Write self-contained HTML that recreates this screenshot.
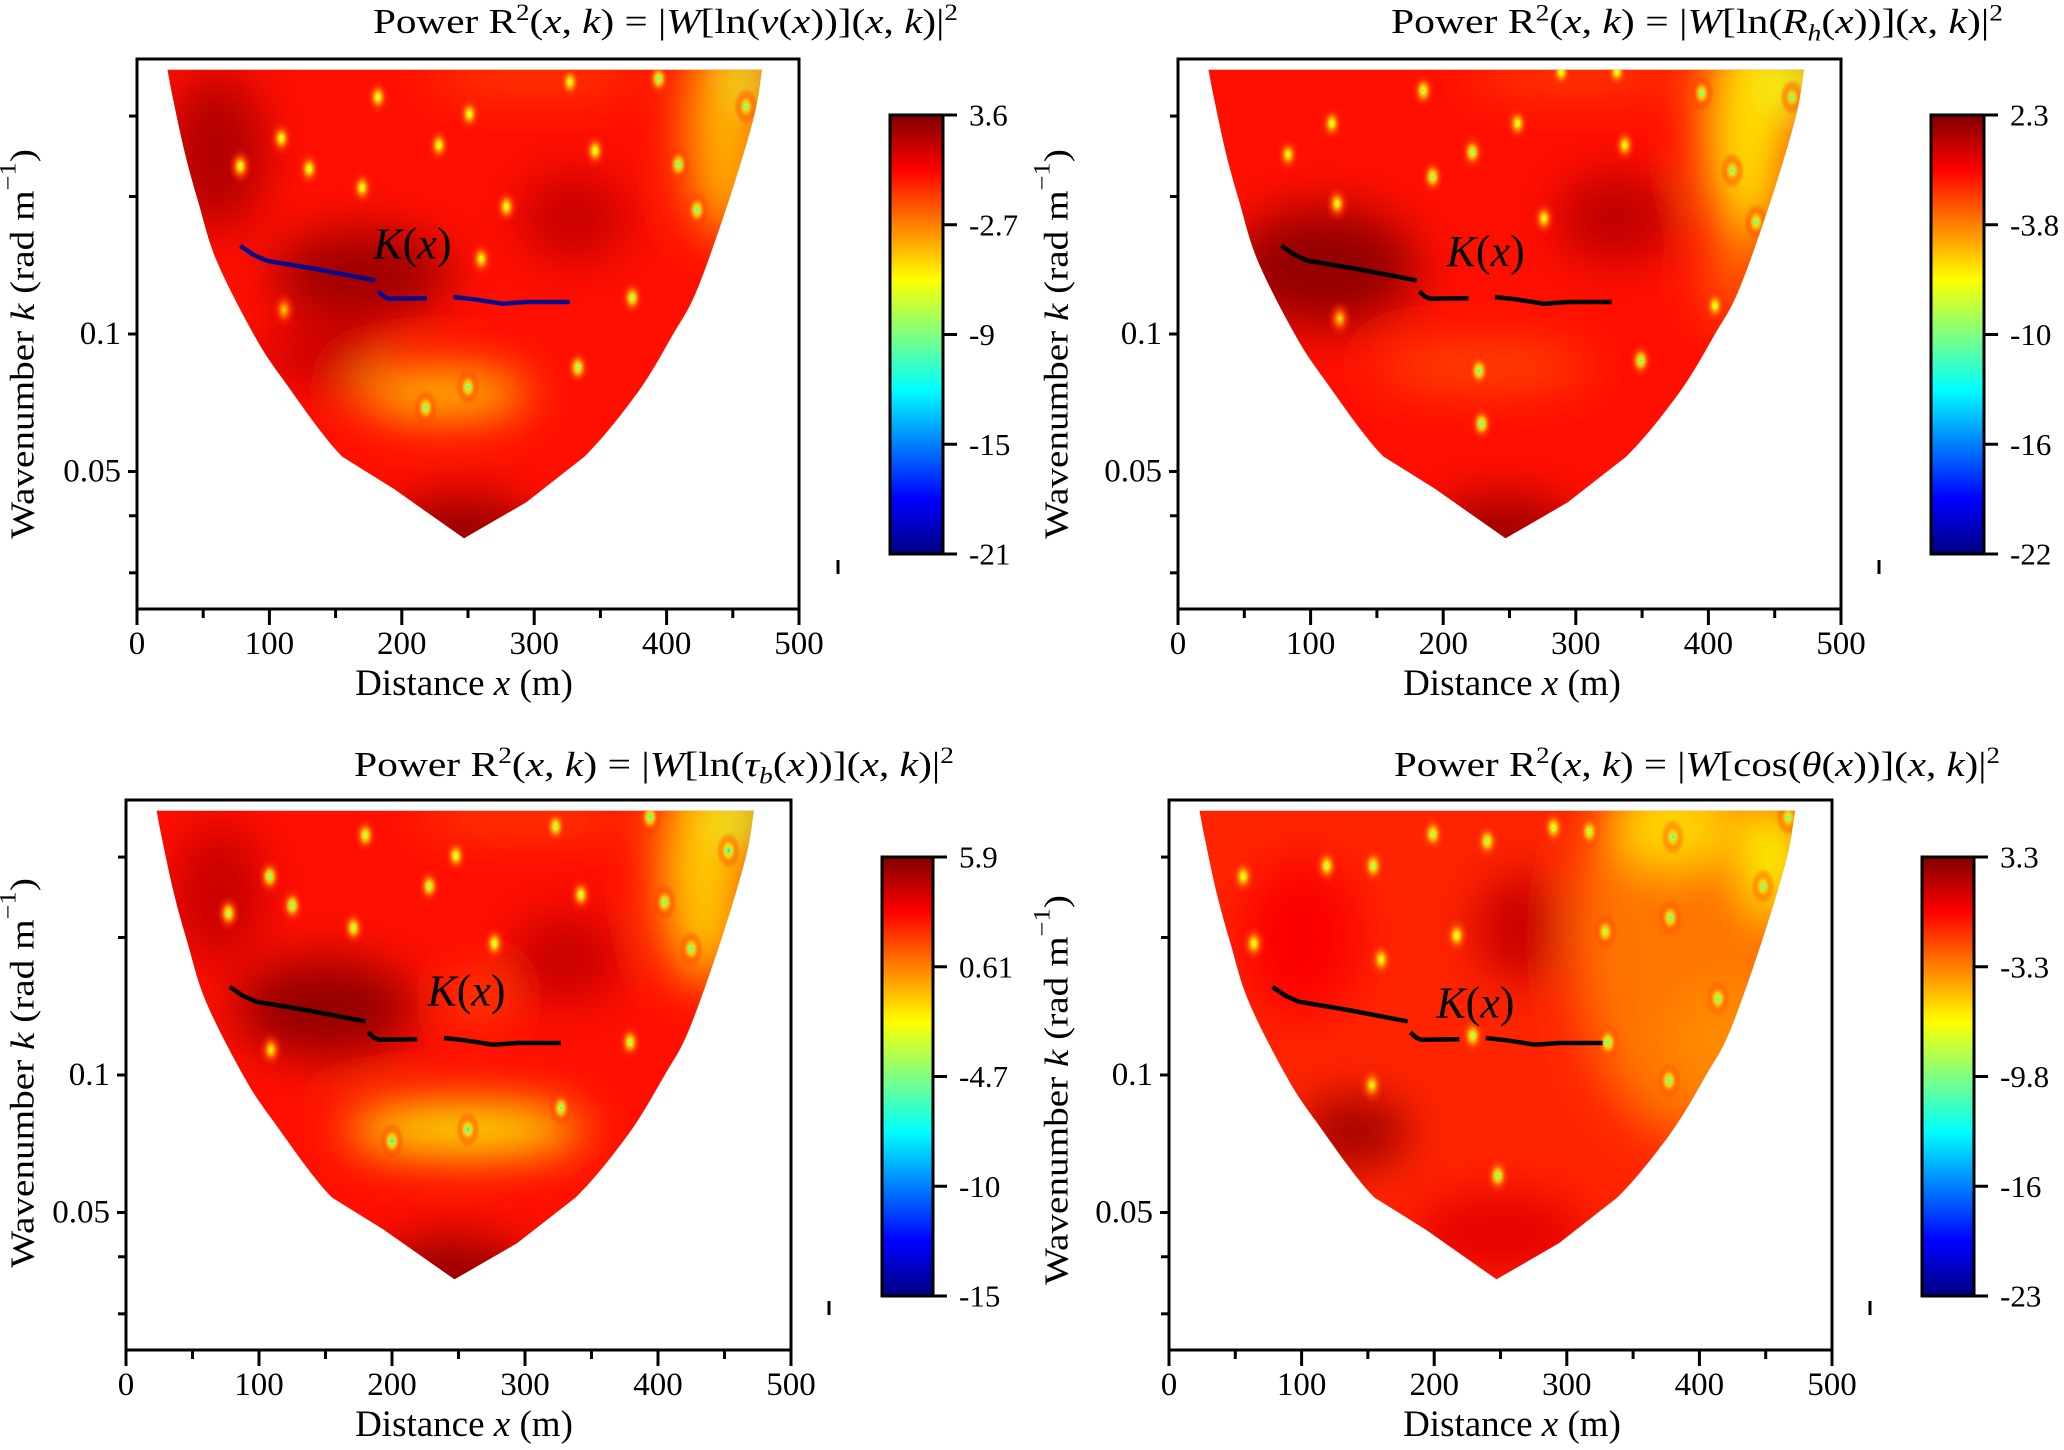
<!DOCTYPE html>
<html><head><meta charset="utf-8"><style>
html,body{margin:0;padding:0;background:#fff;width:2064px;height:1450px;overflow:hidden}
svg text{font-family:"Liberation Serif",serif;fill:#000}
</style></head><body>
<svg id="fig" xmlns="http://www.w3.org/2000/svg" width="2064" height="1450" viewBox="0 0 2064 1450"><defs id="defs"></defs></svg>
<script>
// ---------- data ----------
const xTickVals = [0,100,200,300,400,500];
const xMinorVals = [50,150,250,350,450];
const yTickVals = [0.1,0.05];
const yTickLabels = ["0.1","0.05"];
const yMinorVals = [0.3,0.2,0.04,0.03];
const kMin = 0.025, kMax = 0.4;
// cone of influence (m, k)
const coneLeftX = [23,27,36,46,60,88,110,155,194,247];
const coneLeftK = [0.379,0.33,0.25,0.196,0.145,0.1,0.0798,0.0539,0.0458,0.0357];
const coneRightX = [249,294,338,378,405,423,447,466,472];
const coneRightK = [0.0357,0.0428,0.0539,0.0744,0.1,0.125,0.196,0.3,0.379];
// K(x) ridge segments
const kSeg1X = [78,88,98,135,180];
const kSeg1K = [0.156,0.149,0.1447,0.1388,0.131];
const kSeg2X = [182,186,190,219];
const kSeg2K = [0.124,0.121,0.1195,0.1198];
const kSeg3X = [239,254,276,294,327];
const kSeg3K = [0.1205,0.1192,0.1165,0.1175,0.1175];
// colorbar labels
const cbLabels1 = ["3.6","-2.7","-9","-15","-21"];
const cbLabels2 = ["2.3","-3.8","-10","-16","-22"];
const cbLabels3 = ["5.9","0.61","-4.7","-10","-15"];
const cbLabels4 = ["3.3","-3.3","-9.8","-16","-23"];
// panel 1 spots (x m, k, normalized level)
const p1SpotX = [182,251,327,394,460,109,78,130,228,346,170,409,423,279,260,111,374,333,250,218];
const p1SpotK = [0.330,0.303,0.356,0.362,0.315,0.268,0.233,0.230,0.259,0.252,0.209,0.235,0.187,0.190,0.146,0.113,0.120,0.0845,0.0765,0.069];
const p1SpotL = [0.5,0.5,0.5,0.4,0.38,0.5,0.5,0.48,0.5,0.5,0.5,0.38,0.38,0.5,0.52,0.62,0.45,0.42,0.38,0.38];
const p1BlobX = [60,170,330,245,140,445,470,300,232];
const p1BlobK = [0.25,0.135,0.18,0.036,0.09,0.28,0.37,0.37,0.074];
const p1BlobL = [0.95,0.97,0.93,0.98,0.93,0.7,0.58,0.8,0.66];
const p1BlobRx = [50,90,55,80,60,40,25,110,85];
const p1BlobRy = [80,45,45,40,30,110,25,15,22];
// panel 2
const p2SpotX = [185,116,256,289,331,395,463,83,222,337,192,120,418,436,276,122,405,227,349,229];
const p2SpotK = [0.341,0.289,0.289,0.375,0.375,0.337,0.330,0.247,0.250,0.259,0.221,0.193,0.228,0.176,0.179,0.108,0.1154,0.0831,0.0875,0.0636];
const p2SpotL = [0.45,0.5,0.5,0.5,0.5,0.4,0.38,0.52,0.42,0.52,0.42,0.52,0.38,0.38,0.52,0.6,0.5,0.38,0.4,0.38];
const p2BlobX = [110,330,245,430,300,230,470,420];
const p2BlobK = [0.14,0.18,0.036,0.28,0.37,0.085,0.36,0.13];
const p2BlobL = [0.98,0.94,0.97,0.66,0.8,0.8,0.6,0.78];
const p2BlobRx = [95,60,80,45,110,110,30,30];
const p2BlobRy = [60,45,40,115,15,22,40,40];
// panel 3
const p3SpotX = [180,248,323,394,453,108,77,125,228,342,171,405,425,277,109,379,327,257,200];
const p3SpotK = [0.335,0.302,0.350,0.367,0.310,0.272,0.226,0.235,0.259,0.248,0.210,0.239,0.189,0.194,0.1135,0.118,0.0847,0.0760,0.0717];
const p3SpotL = [0.45,0.48,0.45,0.36,0.3,0.4,0.45,0.4,0.45,0.48,0.45,0.38,0.36,0.48,0.55,0.45,0.4,0.33,0.33];
const p3BlobX = [150,245,330,435,470,300,255,265,70];
const p3BlobK = [0.14,0.036,0.18,0.28,0.37,0.37,0.076,0.147,0.25];
const p3BlobL = [0.98,0.98,0.93,0.68,0.58,0.8,0.62,0.76,0.93];
const p3BlobRx = [90,80,55,45,30,110,120,20,45];
const p3BlobRy = [50,40,45,115,30,15,24,18,70];
// panel 4
const p4SpotX = [199,240,290,317,380,467,56,119,154,448,64,217,329,378,160,414,229,331,153,377,248];
const p4SpotK = [0.337,0.325,0.348,0.341,0.332,0.366,0.272,0.287,0.287,0.259,0.194,0.202,0.206,0.221,0.179,0.147,0.1219,0.118,0.0950,0.0973,0.0602];
const p4SpotL = [0.45,0.45,0.48,0.45,0.38,0.4,0.5,0.48,0.45,0.38,0.52,0.5,0.45,0.38,0.52,0.38,0.45,0.38,0.55,0.38,0.42];
const p4BlobX = [390,420,140,265,380,250,460,100];
const p4BlobK = [0.2,0.12,0.075,0.21,0.35,0.045,0.3,0.2];
const p4BlobL = [0.76,0.74,0.97,0.93,0.66,0.9,0.62,0.88];
const p4BlobRx = [110,60,55,45,60,90,30,60];
const p4BlobRy = [200,60,35,55,40,40,60,80];

// ---------- layout ----------
const NS = "http://www.w3.org/2000/svg";
const svg = document.getElementById("fig");
const defs = document.getElementById("defs");
const sup = s => '<tspan baseline-shift="13" font-size="23">'+s+'</tspan>';
const sub = s => '<tspan baseline-shift="-7" font-size="23" font-style="italic">'+s+'</tspan>';
const it = s => '<tspan font-style="italic">'+s+'</tspan>';
const head = 'Power R'+sup('2')+'('+it('x')+', '+it('k')+') = |'+it('W')+'[';
const tail = '('+it('x')+', '+it('k')+')|'+sup('2');
const panels = [
 {id:1,L:137,R:799,T:59,B:609,cb:[890,943,115,554],title:[373,958,33],titleHtml:head+'ln('+it('v')+'('+it('x')+'))]'+tail,ylab:[22,344],xlab:464,mark:[838,560,574],cbl:cbLabels1,line:"#0b0b8a",base:0.86,
  sx:p1SpotX,sk:p1SpotK,sl:p1SpotL,bx:p1BlobX,bk:p1BlobK,bl:p1BlobL,brx:p1BlobRx,bry:p1BlobRy,kl:[208,0.158]},
 {id:2,L:1178,R:1841,T:59,B:609,cb:[1931,1984,115,554],title:[1391,2003,33],titleHtml:head+'ln('+it('R')+sub('h')+'('+it('x')+'))]'+tail,ylab:[1056,344],xlab:1512,mark:[1879,560,574],cbl:cbLabels2,line:"#000",base:0.86,
  sx:p2SpotX,sk:p2SpotK,sl:p2SpotL,bx:p2BlobX,bk:p2BlobK,bl:p2BlobL,brx:p2BlobRx,bry:p2BlobRy,kl:[232,0.152]},
 {id:3,L:126,R:791,T:800,B:1350,cb:[882,933,857,1296],title:[354,954,776],titleHtml:head+'ln('+it('τ')+sub('b')+'('+it('x')+'))]'+tail,ylab:[22,1073],xlab:464,mark:[829,1301,1315],cbl:cbLabels3,line:"#000",base:0.86,
  sx:p3SpotX,sk:p3SpotK,sl:p3SpotL,bx:p3BlobX,bk:p3BlobK,bl:p3BlobL,brx:p3BlobRx,bry:p3BlobRy,kl:[256,0.153]},
 {id:4,L:1169,R:1832,T:800,B:1350,cb:[1922,1974,857,1296],title:[1394,2000,776],titleHtml:head+'cos('+it('θ')+'('+it('x')+'))]'+tail,ylab:[1056,1090],xlab:1512,mark:[1870,1301,1315],cbl:cbLabels4,line:"#000",base:0.84,
  sx:p4SpotX,sk:p4SpotK,sl:p4SpotL,bx:p4BlobX,bk:p4BlobK,bl:p4BlobL,brx:p4BlobRx,bry:p4BlobRy,kl:[231,0.144]}
];

function clamp(v){return Math.max(0,Math.min(1,v));}
function jet(t){t=clamp(t);
 const r=clamp(1.5-Math.abs(4*t-3)),g=clamp(1.5-Math.abs(4*t-2)),b=clamp(1.5-Math.abs(4*t-1));
 return "rgb("+Math.round(r*255)+","+Math.round(g*255)+","+Math.round(b*255)+")";}
function el(tag,attrs,parent){const e=document.createElementNS(NS,tag);for(const k in attrs)e.setAttribute(k,attrs[k]);(parent||svg).appendChild(e);return e;}
function conePath(P,straight){ // Catmull-Rom, with straight segments where flagged
 let d="M"+P[0][0].toFixed(1)+","+P[0][1].toFixed(1);
 for(let i=0;i<P.length-1;i++){
   const p1=P[i],p2=P[i+1];
   if(straight[i]&&straight[i+1]){d+=" L"+p2[0].toFixed(1)+","+p2[1].toFixed(1);continue;}
   const p0=P[Math.max(0,i-1)],p3=P[Math.min(P.length-1,i+2)];
   const c1=[p1[0]+(p2[0]-p0[0])/6,p1[1]+(p2[1]-p0[1])/6],c2=[p2[0]-(p3[0]-p1[0])/6,p2[1]-(p3[1]-p1[1])/6];
   d+=" C"+c1.map(v=>v.toFixed(1)).join(",")+" "+c2.map(v=>v.toFixed(1)).join(",")+" "+p2.map(v=>v.toFixed(1)).join(",");
 }
 return d+" Z";
}

const flt = el("filter",{id:"blur",filterUnits:"userSpaceOnUse",x:0,y:0,width:2064,height:1450},defs);
el("feGaussianBlur",{stdDeviation:24},flt);
const cg = el("linearGradient",{id:"jetgrad",x1:0,y1:1,x2:0,y2:0},defs);
for(let i=0;i<=16;i++){el("stop",{offset:(i/16),"stop-color":jet(i/16)},cg);}

panels.forEach(p=>{
 const xs = m => p.L + m/500*(p.R-p.L);
 const ys = k => p.T + (Math.log10(kMax)-Math.log10(k))/(Math.log10(kMax)-Math.log10(kMin))*(p.B-p.T);
 const g = el("g",{});
 
 

 const cp = el("clipPath",{id:"cone"+p.id},defs);
 const lp = coneLeftX.map((x,i)=>[xs(x),ys(coneLeftK[i])]);
 const rp = coneRightX.map((x,i)=>[xs(x),ys(coneRightK[i])]);
 const all = lp.concat(rp.slice(1));
 const flags = coneLeftK.concat(coneRightK.slice(1)).map(k=>k<0.06);
 el("path",{d:conePath(all,flags)},cp);

 const hm = el("g",{"clip-path":"url(#cone"+p.id+")"},g);
 
 
 el("rect",{x:p.L,y:p.T,width:p.R-p.L,height:p.B-p.T,fill:jet(p.base)},hm);
 const bg = el("g",{filter:"url(#blur)"},hm);
 p.bx.forEach((x,i)=>{
   const e=el("ellipse",{cx:xs(x),cy:ys(p.bk[i]),rx:p.brx[i],ry:p.bry[i],fill:jet(p.bl[i])},bg);
   
   
 });
 p.sx.forEach((x,i)=>{
   const gid="sp"+p.id+"_"+i, L=p.sl[i];
   const rg=el("radialGradient",{id:gid},defs);
   const offs=[0,0.12,0.35,0.6,1], fr=[0,0.35,0.65,0.85,1], op=[1,1,0.95,0.55,0];
   offs.forEach((o,j)=>el("stop",{offset:o,"stop-color":jet(L+(p.base-L)*fr[j]),"stop-opacity":op[j]},rg));
   const e=el("ellipse",{cx:xs(x),cy:ys(p.sk[i]),rx:12,ry:18,fill:"url(#"+gid+")"},hm);
   
   
 });

 [[kSeg1X,kSeg1K],[kSeg2X,kSeg2K],[kSeg3X,kSeg3K]].forEach(([sx,sk])=>{
   const d=sx.map((x,i)=>(i?"L":"M")+xs(x).toFixed(1)+","+ys(sk[i]).toFixed(1)).join(" ");
   const e=el("path",{d:d,fill:"none",stroke:p.line,"stroke-width":4.5},g);
   
   
 });
 const kt=el("text",{x:xs(p.kl[0]),y:ys(p.kl[1]),"font-size":44,"text-anchor":"middle","dominant-baseline":"central"},g);
 kt.innerHTML=it('K')+'('+it('x')+')';
 
 

 const fr=el("rect",{x:p.L,y:p.T,width:p.R-p.L,height:p.B-p.T,fill:"none",stroke:"#000","stroke-width":3},g);
 
 
 xTickVals.forEach(v=>{
   el("line",{x1:xs(v),x2:xs(v),y1:p.B,y2:p.B+16,stroke:"#000","stroke-width":3},g);
   const t=el("text",{x:xs(v),y:p.B+35,"font-size":33,"text-anchor":"middle","dominant-baseline":"central"},g);
   t.textContent=v;
   
   
 });
 xMinorVals.forEach(v=>el("line",{x1:xs(v),x2:xs(v),y1:p.B,y2:p.B+9,stroke:"#000","stroke-width":3},g));
 yTickVals.forEach((v,i)=>{
   el("line",{x1:p.L-9,x2:p.L,y1:ys(v),y2:ys(v),stroke:"#000","stroke-width":3},g);
   const t=el("text",{x:p.L-16,y:ys(v),"font-size":33,"text-anchor":"end","dominant-baseline":"central"},g);
   t.textContent=yTickLabels[i];
   
   
 });
 yMinorVals.forEach(v=>el("line",{x1:p.L-8,x2:p.L,y1:ys(v),y2:ys(v),stroke:"#000","stroke-width":3},g));

 const xl=el("text",{x:p.xlab,y:p.B+86,"font-size":37,"text-anchor":"middle"},g);
 xl.innerHTML='Distance '+it('x')+' (m)';
 
 
 const yl=el("text",{x:0,y:0,"font-size":34,"text-anchor":"middle","dominant-baseline":"central",transform:"translate("+p.ylab[0]+","+p.ylab[1]+") rotate(-90)"},g);
 yl.innerHTML='Wavenumber '+it('k')+'  (rad m'+sup('−1')+')';
 
 
 const yw=yl.getBBox().width||1;
 yl.setAttribute("transform","translate("+p.ylab[0]+","+p.ylab[1]+") rotate(-90) scale("+(390/yw).toFixed(4)+",1)");

 const tt=el("text",{x:0,y:0,"font-size":35},g);
 tt.innerHTML=p.titleHtml;
 
 
 const w=tt.getBBox().width||1;
 tt.setAttribute("transform","translate("+p.title[0]+","+p.title[2]+") scale("+((p.title[1]-p.title[0])/w).toFixed(4)+",1)");

 const [cx0,cx1,cy0,cy1]=p.cb;
 const cb=el("rect",{x:cx0,y:cy0,width:cx1-cx0,height:cy1-cy0,fill:"url(#jetgrad)",stroke:"#000","stroke-width":3},g);
 
 
 p.cbl.forEach((s,i)=>{
   const y=cy0+(cy1-cy0)*i/(p.cbl.length-1);
   el("line",{x1:cx1,x2:cx1+14,y1:y,y2:y,stroke:"#000","stroke-width":3},g);
   const t=el("text",{x:cx1+26,y:y,"font-size":31,"dominant-baseline":"central"},g);
   t.textContent=s;
   
   
 });
 el("line",{x1:p.mark[0],x2:p.mark[0],y1:p.mark[1],y2:p.mark[2],stroke:"#000","stroke-width":3},g);
});
</script>
</body></html>
